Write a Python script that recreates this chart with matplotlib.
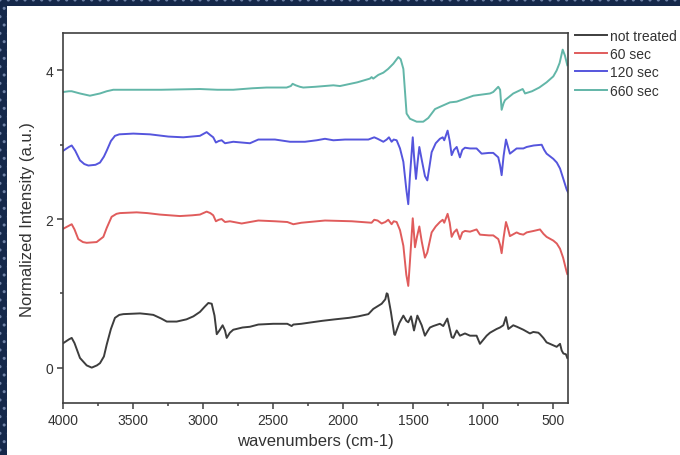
import numpy as np
import matplotlib
matplotlib.use('Agg')
import matplotlib.pyplot as plt
from matplotlib.patches import Rectangle
from matplotlib.ticker import MultipleLocator

plt.rcParams['font.family'] = ['Liberation Sans', 'DejaVu Sans']

# Spectra: wavenumbers (cm-1) and normalized intensity.
wn_untreated = [4000, 3960, 3940, 3920, 3881, 3833, 3797, 3760, 3738, 3710, 3690,
                3660, 3631, 3600, 3571, 3452, 3400, 3357, 3300, 3261, 3190, 3120,
                3071, 3024, 2990, 2964, 2940, 2920, 2904, 2885, 2862, 2845, 2833,
                2810, 2786, 2720, 2667, 2607, 2500, 2400, 2369, 2357, 2300, 2226,
                2150, 2059, 1960, 1893, 1821, 1786, 1726, 1700, 1690, 1683, 1660,
                1636, 1631, 1600, 1571, 1550, 1536, 1516, 1495, 1471, 1440, 1417,
                1395, 1381, 1357, 1310, 1286, 1257, 1226, 1214, 1190, 1167, 1131,
                1095, 1048, 1024, 976, 952, 905, 881, 857, 838, 821, 786, 760, 714,
                667, 643, 607, 595, 571, 548, 500, 476, 452, 440, 428, 410, 400]
int_untreated = [0.33, 0.38, 0.40, 0.33, 0.13, 0.03, 0.00, 0.03, 0.06, 0.15, 0.31,
                 0.52, 0.67, 0.71, 0.72, 0.73, 0.72, 0.71, 0.66, 0.62, 0.62, 0.65,
                 0.69, 0.75, 0.82, 0.87, 0.86, 0.70, 0.45, 0.50, 0.57, 0.50, 0.40,
                 0.47, 0.51, 0.54, 0.55, 0.58, 0.59, 0.59, 0.56, 0.58, 0.59, 0.61,
                 0.63, 0.65, 0.67, 0.69, 0.72, 0.79, 0.86, 0.92, 1.00, 0.99, 0.75,
                 0.45, 0.44, 0.60, 0.70, 0.63, 0.61, 0.69, 0.50, 0.70, 0.57, 0.43,
                 0.50, 0.54, 0.56, 0.59, 0.56, 0.66, 0.41, 0.40, 0.50, 0.43, 0.46,
                 0.43, 0.43, 0.32, 0.43, 0.47, 0.52, 0.54, 0.57, 0.68, 0.52, 0.57,
                 0.55, 0.51, 0.46, 0.48, 0.47, 0.45, 0.40, 0.34, 0.30, 0.28, 0.32,
                 0.23, 0.19, 0.18, 0.13]

wn_60 = [4000, 3960, 3940, 3920, 3893, 3860, 3833, 3762, 3714, 3690, 3655, 3620,
         3595, 3476, 3400, 3310, 3167, 3080, 3024, 2976, 2950, 2929, 2910, 2890,
         2869, 2845, 2810, 2726, 2607, 2488, 2400, 2357, 2300, 2131, 1940, 1798,
         1779, 1755, 1726, 1700, 1679, 1655, 1640, 1619, 1595, 1571, 1550, 1536,
         1525, 1504, 1495, 1488, 1475, 1457, 1440, 1417, 1400, 1369, 1340, 1310,
         1290, 1279, 1255, 1240, 1226, 1210, 1190, 1167, 1150, 1131, 1095, 1048,
         1024, 960, 929, 893, 880, 869, 855, 838, 825, 810, 762, 740, 714, 690,
         640, 595, 570, 548, 500, 475, 452, 430, 405, 400]
int_60 = [1.87, 1.91, 1.93, 1.86, 1.73, 1.69, 1.68, 1.69, 1.76, 1.88, 2.03, 2.07,
          2.08, 2.09, 2.08, 2.06, 2.04, 2.05, 2.06, 2.10, 2.08, 2.05, 1.97, 1.99,
          2.00, 1.96, 1.97, 1.94, 1.98, 1.97, 1.96, 1.93, 1.95, 1.98, 1.97, 1.95,
          1.99, 1.98, 1.94, 1.96, 1.99, 1.93, 1.97, 1.96, 1.85, 1.64, 1.25, 1.10,
          1.40, 2.01, 1.80, 1.62, 1.75, 1.90, 1.70, 1.48, 1.55, 1.82, 1.90, 1.96,
          1.99, 1.95, 2.07, 1.95, 1.76, 1.82, 1.86, 1.73, 1.82, 1.84, 1.83, 1.86,
          1.79, 1.78, 1.78, 1.73, 1.65, 1.54, 1.75, 1.96, 1.88, 1.77, 1.82, 1.80,
          1.79, 1.82, 1.84, 1.86, 1.80, 1.76, 1.71, 1.67, 1.60, 1.48, 1.29, 1.26]

wn_120 = [4000, 3960, 3940, 3915, 3881, 3850, 3821, 3770, 3738, 3710, 3690, 3660,
          3631, 3600, 3500, 3381, 3250, 3143, 3024, 2976, 2950, 2929, 2910, 2890,
          2869, 2845, 2786, 2667, 2607, 2548, 2488, 2381, 2274, 2190, 2131, 2071,
          1988, 1821, 1779, 1755, 1714, 1690, 1674, 1655, 1640, 1619, 1595, 1571,
          1550, 1536, 1525, 1504, 1495, 1481, 1470, 1457, 1440, 1417, 1400, 1385,
          1369, 1340, 1310, 1290, 1279, 1255, 1240, 1226, 1210, 1190, 1167, 1150,
          1131, 1095, 1048, 1012, 960, 929, 893, 880, 869, 855, 838, 825, 810, 762,
          714, 690, 640, 583, 565, 548, 500, 475, 452, 430, 405, 395]
int_120 = [2.92, 2.97, 2.99, 2.92, 2.79, 2.74, 2.72, 2.73, 2.76, 2.84, 2.92, 3.05,
           3.12, 3.14, 3.15, 3.14, 3.11, 3.10, 3.12, 3.17, 3.13, 3.10, 3.03, 3.05,
           3.06, 3.02, 3.04, 3.02, 3.07, 3.07, 3.07, 3.04, 3.04, 3.06, 3.08, 3.06,
           3.07, 3.07, 3.10, 3.08, 3.04, 3.07, 3.10, 3.04, 3.07, 3.06, 2.95, 2.77,
           2.40, 2.20, 2.55, 3.10, 2.85, 2.54, 2.75, 2.97, 2.80, 2.58, 2.52, 2.70,
           2.90, 3.02, 3.08, 3.10, 3.06, 3.19, 3.05, 2.86, 2.93, 2.97, 2.83, 2.93,
           2.96, 2.95, 2.95, 2.88, 2.89, 2.89, 2.83, 2.72, 2.59, 2.85, 3.07, 2.98,
           2.88, 2.95, 2.95, 2.97, 2.99, 3.00, 2.93, 2.88, 2.81, 2.76, 2.68, 2.55,
           2.40, 2.36]

wn_660 = [4000, 3960, 3940, 3881, 3810, 3738, 3690, 3643, 3500, 3300, 3024, 2900,
          2786, 2650, 2548, 2405, 2375, 2362, 2340, 2310, 2286, 2200, 2071, 2024,
          1900, 1810, 1798, 1786, 1750, 1714, 1680, 1643, 1607, 1590, 1571, 1548,
          1524, 1476, 1429, 1393, 1345, 1310, 1238, 1190, 1071, 952, 929, 893, 880,
          869, 855, 845, 786, 719, 710, 702, 652, 600, 548, 500, 476, 455, 433,
          417, 400]
int_660 = [3.71, 3.72, 3.72, 3.69, 3.66, 3.69, 3.72, 3.74, 3.74, 3.74, 3.75, 3.74,
           3.74, 3.76, 3.77, 3.77, 3.79, 3.82, 3.80, 3.78, 3.77, 3.78, 3.80, 3.79,
           3.84, 3.89, 3.91, 3.89, 3.94, 3.97, 4.02, 4.09, 4.18, 4.15, 4.02, 3.42,
           3.35, 3.31, 3.31, 3.36, 3.48, 3.51, 3.57, 3.58, 3.66, 3.69, 3.71, 3.78,
           3.74, 3.47, 3.56, 3.60, 3.69, 3.75, 3.72, 3.69, 3.72, 3.77, 3.84, 3.92,
           4.00, 4.10, 4.28, 4.20, 4.07]

labels = ['not treated', '60 sec', '120 sec', '660 sec']
colors = ['#3d3d3d', '#e05c5c', '#5555dd', '#62b6a8']

fig = plt.figure(figsize=(6.8, 4.56), dpi=100)
fig.patch.set_facecolor('white')

# dark dotted frame along the top and left edges
for rect in [(0, 1 - 7 / 456, 1, 7 / 456), (0, 0, 7 / 680, 1)]:
    fig.patches.append(Rectangle(rect[:2], rect[2], rect[3], transform=fig.transFigure,
                                 facecolor='#15284a', edgecolor='#6f82a6', hatch='..',
                                 linewidth=0, zorder=0))

ax = fig.add_axes([0.0931, 0.1134, 0.7422, 0.8114])

series = [(wn_untreated, int_untreated), (wn_60, int_60),
          (wn_120, int_120), (wn_660, int_660)]
for (x, y), lab, c in zip(series, labels, colors):
    ax.plot(x, y, color=c, lw=1.4, label=lab)

ax.set_xlim(4000, 395)
ax.set_ylim(-0.48, 4.5)
ax.xaxis.set_major_locator(MultipleLocator(500))
ax.xaxis.set_minor_locator(MultipleLocator(250))
ax.yaxis.set_major_locator(MultipleLocator(2))
ax.yaxis.set_minor_locator(MultipleLocator(1))

for s in ax.spines.values():
    s.set_color('#404040')
    s.set_linewidth(1.2)
ax.tick_params(which='major', direction='out', length=4, width=1.1,
               color='#404040', labelsize=10, labelcolor='#333333', pad=3)
ax.tick_params(which='minor', direction='out', length=2.5, width=1.1, color='#404040')

ax.set_xlabel('wavenumbers (cm-1)', fontsize=12, color='#333333', labelpad=4)
ax.set_ylabel('Normalized Intensity (a.u.)', fontsize=12, color='#333333', labelpad=8)

ax.legend(loc='upper left', bbox_to_anchor=(575 / 680, 1 - 30 / 456),
          bbox_transform=fig.transFigure, frameon=False, fontsize=10,
          handlelength=2.3, handletextpad=0.25, labelspacing=0.3,
          borderpad=0, borderaxespad=0, labelcolor='#333333')

fig.savefig('out.png', dpi=100)
